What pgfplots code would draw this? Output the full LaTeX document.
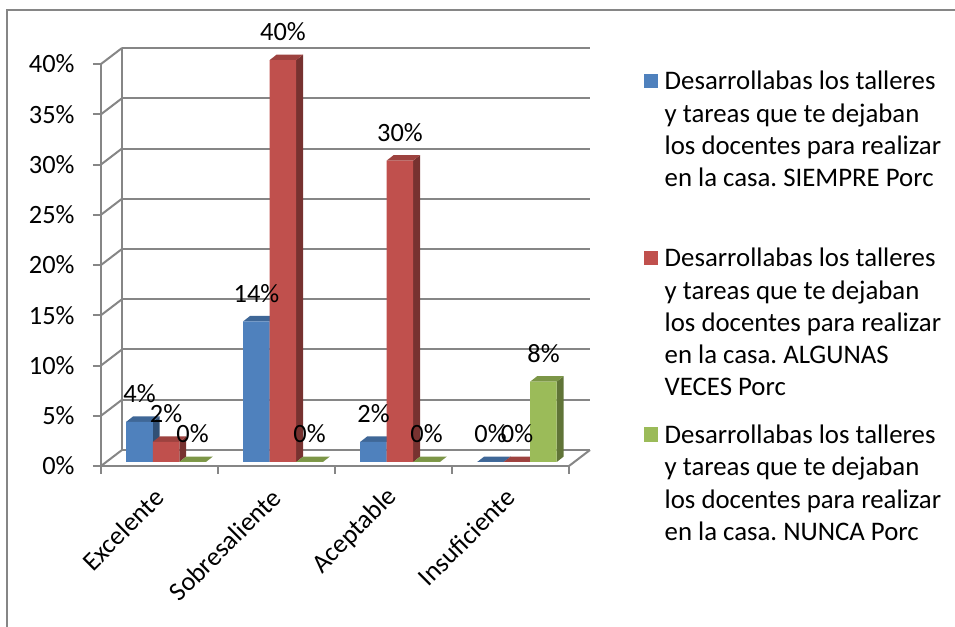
\documentclass[border=0pt]{standalone}
\usepackage{pgfplots}
\pgfplotsset{compat=1.18}
\usepackage{fontspec}
\setmainfont{Carlito}
\frenchspacing
\definecolor{gridgray}{HTML}{868686}
\definecolor{cblue}{HTML}{4F81BD}
\definecolor{cred}{HTML}{C0504D}
\definecolor{cgreen}{HTML}{9BBB59}
\colorlet{cbluetop}{cblue!80!black}
\colorlet{cblueside}{cblue!62!black}
\colorlet{credtop}{cred!82!black}
\colorlet{credside}{cred!62!black}
\colorlet{cgreentop}{cgreen!80!black}
\colorlet{cgreenside}{cgreen!62!black}
% #1 bar centre (axis units), #2 value, #3 top colour, #4 side colour
\newcommand\prism[4]{%
  \pgfmathsetmacro\xa{#1-0.11325}%
  \pgfmathsetmacro\xb{#1+0.11325}%
  \pgfmathsetmacro\xc{#1+0.11325+0.0598}%
  \pgfmathsetmacro\xd{#1-0.11325+0.0598}%
  \pgfmathsetmacro\yt{#2+0.547}%
  \edef\tmp{\noexpand\addplot[fill=#4,draw=none,forget plot] coordinates {(\xb,0) (\xb,#2) (\xc,\yt) (\xc,0.547)};
            \noexpand\addplot[fill=#3,draw=none,forget plot] coordinates {(\xa,#2) (\xb,#2) (\xc,\yt) (\xd,\yt)};}%
  \tmp}
\newcommand\lfont{\fontsize{13.2}{16.15}\selectfont}
\newcommand\legfont{\fontsize{13.4}{16.15}\selectfont}
\begin{document}
\begin{tikzpicture}
\path[use as bounding box] (0,0) rectangle (477.5pt,313.5pt);
\draw[gridgray, line width=0.6pt] (3.5pt,-2pt) -- (3.5pt,308.5pt) -- (480pt,308.5pt);
% back wall
\begin{axis}[at={(61pt,88.5pt)}, anchor=south west, scale only axis,
  width=234pt, height=201pt, xmin=-0.5, xmax=3.5, ymin=0, ymax=40,
  ytick={0,5,...,40}, yticklabels={}, xtick=\empty,
  axis x line=none, axis y line*=left, ymajorgrids,
  grid style={gridgray, line width=1pt},
  axis line style={gridgray, line width=1pt, -}, major tick length=0pt]
\addplot[draw=none] coordinates {(0,0)};
\end{axis}
% front frame
\begin{axis}[at={(50.5pt,80.5pt)}, anchor=south west, scale only axis,
  width=234pt, height=201pt, xmin=-0.5, xmax=3.5, ymin=0, ymax=40,
  axis x line*=bottom, axis y line*=left,
  axis line style={gridgray, line width=1pt, -},
  font=\lfont, /pgf/number format/assume math mode=true,
  ytick={0,5,...,40}, yticklabel={\pgfmathprintnumber{\tick}\%},
  xtick={0,1,2,3}, xticklabels={Excelente,Sobresaliente,Aceptable,Insuficiente},
  minor xtick={-0.5,0.5,1.5,2.5,3.5},
  tick align=outside, major tick length=4pt, minor tick length=4pt,
  tick style={gridgray, line width=1pt},
  major x tick style={draw=none},
  xticklabel style={yshift=-9.5pt, rotate=45, anchor=east, inner sep=0pt},
  yticklabel style={anchor=east, inner sep=0pt, xshift=-9pt},
  clip=false]
\addplot[draw=none] coordinates {(0,0)};
\pgfplotsinvokeforeach{0,5,...,40}{\draw[gridgray, line width=1pt] (axis cs:-0.5,#1) -- ++(10.5pt,8pt);}
\draw[gridgray, line width=1pt] (axis cs:3.5,0) -- ++(10.5pt,8pt);
\end{axis}
% bars
\begin{axis}[at={(53.75pt,82.5pt)}, anchor=south west, scale only axis,
  width=234pt, height=201pt, xmin=-0.5, xmax=3.5, ymin=0, ymax=40,
  hide axis, clip=false, font=\lfont,
  /pgf/number format/assume math mode=true,
  legend style={at={(1.1449,0.9841)}, anchor=north west, draw=none, fill=none,
    inner sep=0pt, row sep=0pt, column sep=3.3pt, font=\legfont,
    cells={anchor=north west}, nodes={inner sep=0pt, text depth=}},
  every node near coord/.append style={anchor=center, yshift=14pt, font=\lfont},
  ]
\prism{-0.2265}{4}{cbluetop}{cblueside}
\prism{0.7735}{14}{cbluetop}{cblueside}
\prism{1.7735}{2}{cbluetop}{cblueside}
\prism{2.7735}{0}{cbluetop}{cblueside}
\addplot[ybar, bar width=13.25pt, bar shift=-13.25pt, fill=cblue, draw=none,
  nodes near coords={\pgfmathprintnumber{\pgfplotspointmeta}\%},
  nodes near coords style={xshift=-13.25pt},
  legend image code/.code={\fill[cblue] (0pt,-3.45pt) rectangle (7.2pt,-10.65pt);}]
  coordinates {(0,4) (1,14) (2,2) (3,0)};
\addlegendentry{\parbox[t][88.25pt][t]{170pt}{\strut Desarrollabas los talleres\\ y tareas que te dejaban\\ los docentes para realizar\\ en la casa. SIEMPRE Porc}}
\prism{0}{2}{credtop}{credside}
\prism{1}{40}{credtop}{credside}
\prism{2}{30}{credtop}{credside}
\prism{3}{0}{credtop}{credside}
\addplot[ybar, bar width=13.25pt, bar shift=0pt, fill=cred, draw=none,
  nodes near coords={\pgfmathprintnumber{\pgfplotspointmeta}\%},
  legend image code/.code={\fill[cred] (0pt,-3.45pt) rectangle (7.2pt,-10.65pt);}]
  coordinates {(0,2) (1,40) (2,30) (3,0)};
\addlegendentry{\parbox[t][88.25pt][t]{170pt}{\strut Desarrollabas los talleres\\ y tareas que te dejaban\\ los docentes para realizar\\ en la casa. ALGUNAS\\ VECES Porc}}
\prism{0.2265}{0}{cgreentop}{cgreenside}
\prism{1.2265}{0}{cgreentop}{cgreenside}
\prism{2.2265}{0}{cgreentop}{cgreenside}
\prism{3.2265}{8}{cgreentop}{cgreenside}
\addplot[ybar, bar width=13.25pt, bar shift=13.25pt, fill=cgreen, draw=none,
  nodes near coords={\pgfmathprintnumber{\pgfplotspointmeta}\%},
  nodes near coords style={xshift=13.25pt},
  legend image code/.code={\fill[cgreen] (0pt,-3.45pt) rectangle (7.2pt,-10.65pt);}]
  coordinates {(0,0) (1,0) (2,0) (3,8)};
\addlegendentry{\parbox[t][88.25pt][t]{170pt}{\strut Desarrollabas los talleres\\ y tareas que te dejaban\\ los docentes para realizar\\ en la casa. NUNCA Porc}}
\end{axis}
\end{tikzpicture}
\end{document}
